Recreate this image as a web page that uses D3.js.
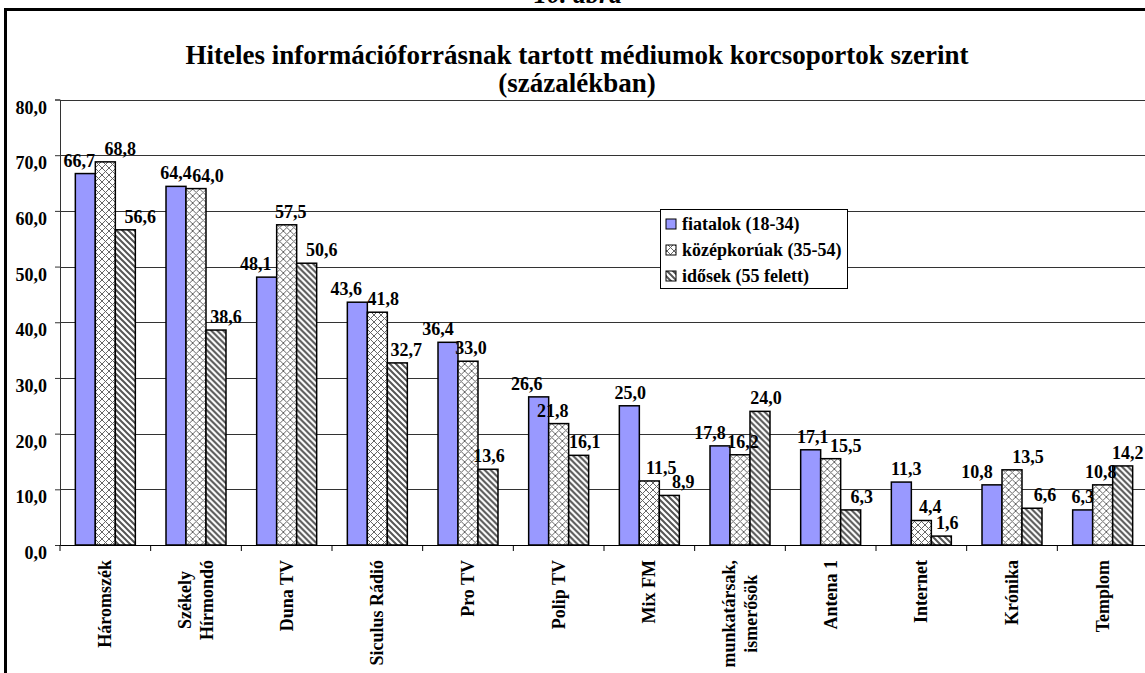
<!DOCTYPE html>
<html>
<head>
<meta charset="utf-8">
<script src="https://cdn.jsdelivr.net/npm/d3@7"></script>
<style>
  html, body { margin: 0; padding: 0; background: #fff; }
  svg { display: block; }
  text { font-family: "Liberation Serif", "Times New Roman", serif; font-weight: bold; fill: #000; }
</style>
</head>
<body>
<svg id="chart" width="1145" height="673"></svg>
<script>
// ---- data ----
const categories = [
  "Háromszék", "Székely\nHírmondó", "Duna TV", "Siculus Rádió", "Pro TV", "Polip TV",
  "Mix FM", "munkatársak,\nismerősök", "Antena 1", "Internet", "Krónika", "Templom"
];
const seriesNames = ["fiatalok (18-34)", "középkorúak (35-54)", "idősek (55 felett)"];
const fiatalok    = [66.7, 64.4, 48.1, 43.6, 36.4, 26.6, 25.0, 17.8, 17.1, 11.3, 10.8, 6.3];
const kozepkoruak = [68.8, 64.0, 57.5, 41.8, 33.0, 21.8, 11.5, 16.2, 15.5, 4.4, 13.5, 10.8];
const idosek      = [56.6, 38.6, 50.6, 32.7, 13.6, 16.1, 8.9, 24.0, 6.3, 1.6, 6.6, 14.2];
const yTicks = [0, 10, 20, 30, 40, 50, 60, 70, 80];
const topLabel = "10. ábra";
const titleLines = ["Hiteles információforrásnak tartott médiumok korcsoportok szerint", "(százalékban)"];

// value-label nudges (px) as placed in the original, per series
const nudgeFiatalok    = [-6, 0, -11, -11, -10, -12, 1, -10, 2, 5, -15, 0];
const nudgeKozepkoruak = [15, 12, 4, 6, 3, -6, 12, 3, 15, 9, 16, -2];
const nudgeIdosek      = [15, 10, 15, 9, 1, 6, 14, 6, 11, 6, 13, 5];

const seriesValues = [fiatalok, kozepkoruak, idosek];
const seriesNudges = [nudgeFiatalok, nudgeKozepkoruak, nudgeIdosek];
const rows = categories.map((c, i) => ({
  cat: c,
  vals: seriesValues.map((s, k) => ({ key: seriesNames[k], k, v: s[i], dx: seriesNudges[k][i] }))
}));

const svg = d3.select("#chart");
const fmt = v => v.toFixed(1).replace(".", ",");

// patterns
const defs = svg.append("defs");
const cross = defs.append("pattern").attr("id", "pCross").attr("patternUnits", "userSpaceOnUse")
  .attr("width", 7).attr("height", 7);
cross.append("rect").attr("width", 7).attr("height", 7).attr("fill", "#fff");
cross.append("path").attr("d", "M0,0 L7,7 M7,0 L0,7 M-1,6 L1,8 M6,-1 L8,1 M-1,1 L1,-1 M6,8 L8,6")
  .attr("stroke", "#666").attr("stroke-width", 1).attr("fill", "none");
const diag = defs.append("pattern").attr("id", "pDiag").attr("patternUnits", "userSpaceOnUse")
  .attr("width", 6).attr("height", 6);
diag.append("rect").attr("width", 6).attr("height", 6).attr("fill", "#fff");
diag.append("path").attr("d", "M-1,-1 L7,7 M-4,2 L1,7 M5,-1 L8,2")
  .attr("stroke", "#555").attr("stroke-width", 2).attr("fill", "none");
const fills = ["#9999FF", "url(#pCross)", "url(#pDiag)"];

// frame
svg.append("rect").attr("x", 5.5).attr("y", 9.5).attr("width", 1300).attr("height", 800)
  .attr("fill", "none").attr("stroke", "#000").attr("stroke-width", 3);

// top label (cut off by the page edge, as in the original)
svg.append("text").attr("x", 578).attr("y", 3).attr("text-anchor", "middle")
  .style("font-size", "26px").style("font-style", "italic").text(topLabel);

// title
svg.append("g").selectAll("text").data(titleLines).join("text")
  .attr("x", 577).attr("y", (d, i) => 64 + i * 28).attr("text-anchor", "middle")
  .style("font-size", "27px").text(d => d);

// scales
const x0 = d3.scaleBand().domain(categories).range([60, 1148]).paddingInner(0).paddingOuter(0);
const x1 = d3.scaleBand().domain(seriesNames).range([0, x0.bandwidth()]).paddingInner(0).paddingOuter(0.767);
const y = d3.scaleLinear().domain([0, 80]).range([545, 99.5]);

// gridlines
svg.append("g").selectAll("line").data(yTicks.filter(t => t > 0)).join("line")
  .attr("x1", 60).attr("x2", 1148).attr("y1", d => Math.round(y(d)) + 0.5).attr("y2", d => Math.round(y(d)) + 0.5)
  .attr("stroke", "#333").attr("stroke-width", 1);

// bars
const groups = svg.append("g").selectAll("g").data(rows).join("g")
  .attr("transform", d => `translate(${x0(d.cat)},0)`);
groups.selectAll("rect").data(d => d.vals).join("rect")
  .attr("x", d => x1(d.key)).attr("width", x1.bandwidth())
  .attr("y", d => y(d.v)).attr("height", d => y(0) - y(d.v))
  .attr("fill", d => fills[d.k]).attr("stroke", "#000").attr("stroke-width", 1.5);
groups.selectAll("text").data(d => d.vals).join("text")
  .attr("x", d => x1(d.key) + x1.bandwidth() / 2 + d.dx).attr("y", d => y(d.v) - 7)
  .attr("text-anchor", "middle").style("font-size", "18px").text(d => fmt(d.v));

// y axis
const yAxis = svg.append("g").attr("transform", "translate(60,0)")
  .call(d3.axisLeft(y).tickValues(yTicks).tickFormat(fmt).tickSize(5).tickPadding(8));
yAxis.select(".domain").attr("stroke", "#333");
yAxis.selectAll(".tick line").attr("stroke", "#333");
yAxis.selectAll("text").style("font-size", "18px").attr("dy", "0.75em").attr("font-family", null);

// x axis
const xAxis = svg.append("g").attr("transform", `translate(0,${y(0)})`)
  .call(d3.axisBottom(x0).tickValues([]).tickSizeOuter(0));
xAxis.select(".domain").attr("stroke", "#000").attr("stroke-width", 1.2);
const bounds = categories.map((c) => x0(c));
xAxis.selectAll("line.sep").data(bounds).join("line").attr("class", "sep")
  .attr("x1", d => d).attr("x2", d => d).attr("y1", 0).attr("y2", 6).attr("stroke", "#000");

// category labels (rotated, multi-line)
const catG = svg.append("g");
categories.forEach(c => {
  const lines = c.split("\n");
  const cx = x0(c) + x0.bandwidth() / 2;
  const g = catG.append("g");
  const texts = lines.map((ln) => g.append("text").style("font-size", "18px").text(ln));
  const lens = texts.map(t => t.node().getComputedTextLength());
  const maxLen = d3.max(lens);
  const lh = 22;
  texts.forEach((t, i) => {
    const off = (i - (lines.length - 1) / 2) * lh;
    const midY = 560 + maxLen / 2;
    t.attr("text-anchor", "middle")
     .attr("transform", `translate(${cx + off + 6},${midY}) rotate(-90)`);
  });
});

// legend
const lg = svg.append("g").attr("transform", "translate(660,209)");
lg.append("rect").attr("x", 0.5).attr("y", 0.5).attr("width", 187).attr("height", 79)
  .attr("fill", "#fff").attr("stroke", "#000").attr("stroke-width", 1);
const li = lg.selectAll("g").data(seriesNames).join("g")
  .attr("transform", (d, i) => `translate(0,${9 + i * 26})`);
li.append("rect").attr("x", 6).attr("y", 1).attr("width", 10).attr("height", 10)
  .attr("fill", (d, i) => fills[i]).attr("stroke", "#000").attr("stroke-width", 1);
li.append("text").attr("x", 22).attr("y", 12).style("font-size", "18px").text(d => d);
</script>
</body>
</html>
